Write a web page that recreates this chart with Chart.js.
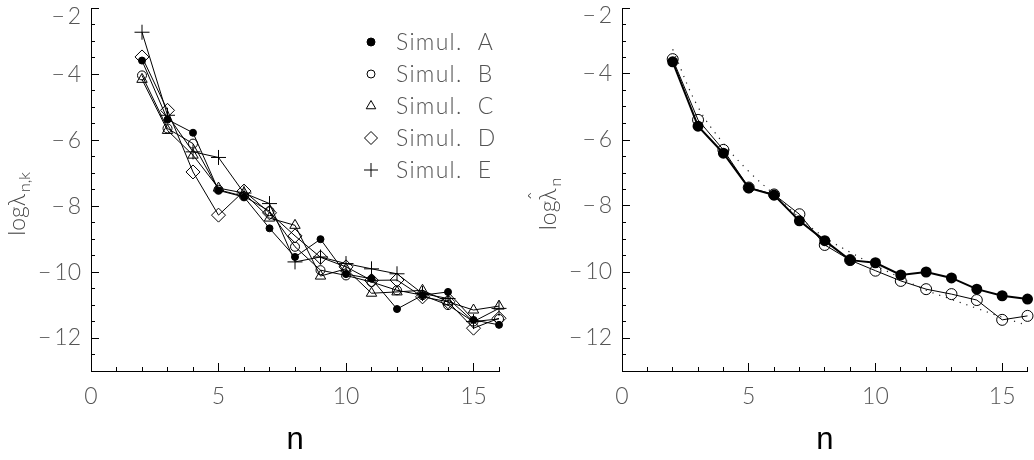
<!DOCTYPE html>
<html>
<head>
<meta charset="utf-8">
<script src="https://cdn.jsdelivr.net/npm/chart.js@4.4.1/dist/chart.umd.min.js"></script>
<style>
  html, body { margin: 0; padding: 0; background: #fff; }
  #wrap { position: relative; width: 1034px; height: 460px; overflow: hidden; }
  canvas { position: absolute; top: 0; }
  #left { left: 0; }
  #right { left: 517px; }
</style>
</head>
<body>
<div id="wrap">
  <canvas id="left" width="517" height="460"></canvas>
  <canvas id="right" width="517" height="460"></canvas>
</div>
<script>
// --- data ---
const nVals = [2, 3, 4, 5, 6, 7, 8, 9, 10, 11, 12, 13, 14, 15, 16];

const simA = [-3.58, -5.37, -5.77, -7.52, -7.72, -8.67, -9.54, -9.00, -10.06, -10.20, -11.12, -10.70, -10.60, -11.45, -11.60];
const simB = [-4.03, -5.64, -6.10, -7.50, -7.70, -8.15, -9.23, -9.94, -10.10, -10.30, -10.55, -10.70, -11.00, -11.50, -11.42];
const simC = [-4.15, -5.70, -6.45, -7.45, -7.60, -8.36, -8.58, -10.12, -9.90, -10.64, -10.60, -10.55, -10.90, -11.15, -11.03];
const simD = [-3.47, -5.09, -6.96, -8.27, -7.54, -8.20, -8.90, -9.55, -9.84, -10.25, -10.24, -10.75, -10.90, -11.70, -11.40];
const simE = [-2.72, -5.24, -6.35, -6.52, -7.60, -7.92, -9.69, -9.54, -9.74, -9.90, -10.05, -10.65, -10.80, -11.50, -11.10];

const hatFilled = [-3.63, -5.58, -6.40, -7.45, -7.67, -8.45, -9.05, -9.64, -9.72, -10.09, -10.00, -10.18, -10.52, -10.72, -10.82];
const hatOpen   = [-3.55, -5.39, -6.30, -7.44, -7.65, -8.25, -9.18, -9.64, -9.96, -10.27, -10.52, -10.67, -10.85, -11.45, -11.33];
const hatFit    = [-3.25, -5.00, -6.10, -6.95, -7.65, -8.35, -8.95, -9.40, -9.80, -10.18, -10.55, -10.83, -11.10, -11.37, -11.62];

const legendLabels = ['Simul.  A', 'Simul.  B', 'Simul.  C', 'Simul.  D', 'Simul.  E'];
const xRange = [0, 16];
const yRange = [-13, -2];

// --- helpers ---
const pts = arr => arr.map((v, i) => ({ x: nVals[i], y: v }));
const fmt = v => v < 0 ? '\u2212\u2009' + Math.abs(v) : String(v);
// top label sits a little below its tick, as in the original
const fmtY = v => v === yRange[1] ? ['', fmt(v)] : fmt(v);
const labelFont = { family: 'Lato, "DejaVu Sans", sans-serif', size: 23, weight: 300, lineHeight: 0.7 };
const labelColor = '#555';

// axis labels must not push the plot area around
function noPad(s) { s.paddingTop = 0; s.paddingBottom = 0; s.paddingLeft = 0; s.paddingRight = 0; }

function makeScales(yWidth) {
  return {
    x: {
      type: 'linear', position: 'bottom', min: xRange[0], max: xRange[1], weight: 1,
      ticks: { stepSize: 5, includeBounds: false, autoSkip: false, maxRotation: 0, padding: 26,
               font: labelFont, color: labelColor, callback: fmt },
      grid: { drawOnChartArea: false, tickLength: -8, color: '#000', lineWidth: 1 },
      border: { display: true, color: '#000', width: 1 },
      title: { display: true, text: 'n', color: '#000',
               font: { family: '"Liberation Sans", Arial, sans-serif', size: 31 }, padding: { top: 0, bottom: 1 } },
      afterFit: s => { s.height = 89; noPad(s); }
    },
    xMinor: {
      type: 'linear', position: 'bottom', min: xRange[0], max: xRange[1], weight: 0,
      ticks: { display: false, stepSize: 1, maxTicksLimit: 100 },
      grid: { drawOnChartArea: false, tickLength: -4, color: '#000', lineWidth: 1 },
      border: { display: false },
      afterFit: s => { s.height = 0; noPad(s); }
    },
    y: {
      type: 'linear', position: 'left', min: yRange[0], max: yRange[1], weight: 1,
      ticks: { stepSize: 2, includeBounds: false, autoSkip: false, padding: 18,
               font: labelFont, color: labelColor, callback: fmtY },
      grid: { drawOnChartArea: false, tickLength: -8, color: '#000', lineWidth: 1 },
      border: { display: true, color: '#000', width: 1 },
      afterFit: s => { s.width = yWidth; noPad(s); }
    },
    yMinor: {
      type: 'linear', position: 'left', min: yRange[0], max: yRange[1], weight: 0,
      ticks: { display: false, stepSize: 0.5, maxTicksLimit: 100 },
      grid: { drawOnChartArea: false, tickLength: -4, color: '#000', lineWidth: 1 },
      border: { display: false },
      afterFit: s => { s.width = 0; noPad(s); }
    }
  };
}

// rotated y title with subscript (and optional hat)
function drawYTitle(ctx, cx, cy, main, sub, hat) {
  const bigFont = '300 23px Lato, "DejaVu Sans", sans-serif';
  const smallFont = '300 16px Lato, "DejaVu Sans", sans-serif';
  ctx.save();
  ctx.translate(cx, cy);
  ctx.rotate(-Math.PI / 2);
  ctx.fillStyle = '#444';
  ctx.textBaseline = 'alphabetic';
  ctx.font = bigFont;
  const wMain = ctx.measureText(main).width;
  ctx.font = smallFont;
  const wSub = ctx.measureText(sub).width;
  const total = wMain + 2 + wSub;
  let x = -total / 2;
  ctx.font = bigFont;
  ctx.fillText(main, x, 8);
  if (hat) {
    const wLog = ctx.measureText('log').width;
    const wLam = ctx.measureText('\u03bb').width;
    ctx.textAlign = 'center';
    ctx.fillText('\u02c6', x + wLog + wLam / 2 - 1, -3);
    ctx.textAlign = 'left';
  }
  x += wMain + 2;
  ctx.font = smallFont;
  ctx.fillText(sub, x, 13);
  ctx.restore();
}

function drawMarker(ctx, style, r, filled, x, y) {
  ctx.beginPath();
  if (style === 'circle') {
    ctx.arc(x, y, r, 0, Math.PI * 2);
  } else if (style === 'triangle') {
    for (let k = 0; k < 3; k++) {
      const a = k * 2 * Math.PI / 3;
      const px = x + Math.sin(a) * r, py = y - Math.cos(a) * r;
      k === 0 ? ctx.moveTo(px, py) : ctx.lineTo(px, py);
    }
    ctx.closePath();
  } else if (style === 'rectRot') {
    ctx.moveTo(x, y - r); ctx.lineTo(x + r, y); ctx.lineTo(x, y + r); ctx.lineTo(x - r, y); ctx.closePath();
  } else if (style === 'cross') {
    ctx.moveTo(x - r, y); ctx.lineTo(x + r, y); ctx.moveTo(x, y - r); ctx.lineTo(x, y + r);
  }
  if (filled) { ctx.fillStyle = '#000'; ctx.fill(); }
  ctx.strokeStyle = '#000'; ctx.lineWidth = 1; ctx.stroke();
}

const leftDecor = {
  id: 'leftDecor',
  afterDraw(chart) {
    const ctx = chart.ctx;
    drawYTitle(ctx, 17, 204, 'log\u03bb', 'n,k', false);
    // legend
    ctx.save();
    chart.data.datasets.forEach((ds, i) => {
      const y = 42 + i * 32;
      const r = ds.pointStyle === 'circle' ? 4 : ds.pointRadius - 0.5;
      drawMarker(ctx, ds.pointStyle, r, ds.pointBackgroundColor === '#000', 371, y);
      ctx.fillStyle = labelColor;
      ctx.font = '300 23px Lato, "DejaVu Sans", sans-serif';
      ctx.letterSpacing = '1.3px';
      ctx.textBaseline = 'middle';
      ctx.fillText(legendLabels[i], 396, y + 1);
    });
    ctx.restore();
  }
};

const rightDecor = {
  id: 'rightDecor',
  afterDraw(chart) {
    drawYTitle(chart.ctx, 31, 204, 'log\u03bb', 'n', true);
  }
};

function simSet(data, style, radius, filled) {
  return {
    data: pts(data), pointStyle: style, pointRadius: radius, pointHoverRadius: radius,
    pointBackgroundColor: filled ? '#000' : 'rgba(0,0,0,0)', pointBorderColor: '#000', pointBorderWidth: 1,
    borderColor: '#000', borderWidth: 1, fill: false, tension: 0, clip: false
  };
}

new Chart(document.getElementById('left'), {
  type: 'line',
  data: {
    datasets: [
      simSet(simA, 'circle', 3.5, true),
      simSet(simB, 'circle', 4.5, false),
      simSet(simC, 'triangle', 6, false),
      simSet(simD, 'rectRot', 7, false),
      simSet(simE, 'cross', 7.5, false)
    ]
  },
  options: {
    responsive: false, animation: false,
    layout: { padding: { top: 8, right: 18, left: 0, bottom: 0 } },
    plugins: { legend: { display: false }, tooltip: { enabled: false } },
    scales: makeScales(91)
  },
  plugins: [leftDecor]
});

new Chart(document.getElementById('right'), {
  type: 'line',
  data: {
    datasets: [
      { data: pts(hatFilled), pointStyle: 'circle', pointRadius: 4.5, pointBackgroundColor: '#000',
        pointBorderColor: '#000', borderColor: '#000', borderWidth: 2, tension: 0, clip: false },
      { data: pts(hatOpen), pointStyle: 'circle', pointRadius: 5.5, pointBackgroundColor: 'rgba(0,0,0,0)',
        pointBorderColor: '#000', pointBorderWidth: 1, borderColor: '#000', borderWidth: 1, tension: 0, clip: false },
      { data: pts(hatFit), pointRadius: 0, borderColor: '#222', borderWidth: 1.2, borderDash: [1.2, 6],
        tension: 0.4, clip: false }
    ]
  },
  options: {
    responsive: false, animation: false,
    layout: { padding: { top: 8, right: 4, left: 0, bottom: 0 } },
    plugins: { legend: { display: false }, tooltip: { enabled: false } },
    scales: makeScales(105)
  },
  plugins: [rightDecor]
});
</script>
</body>
</html>
